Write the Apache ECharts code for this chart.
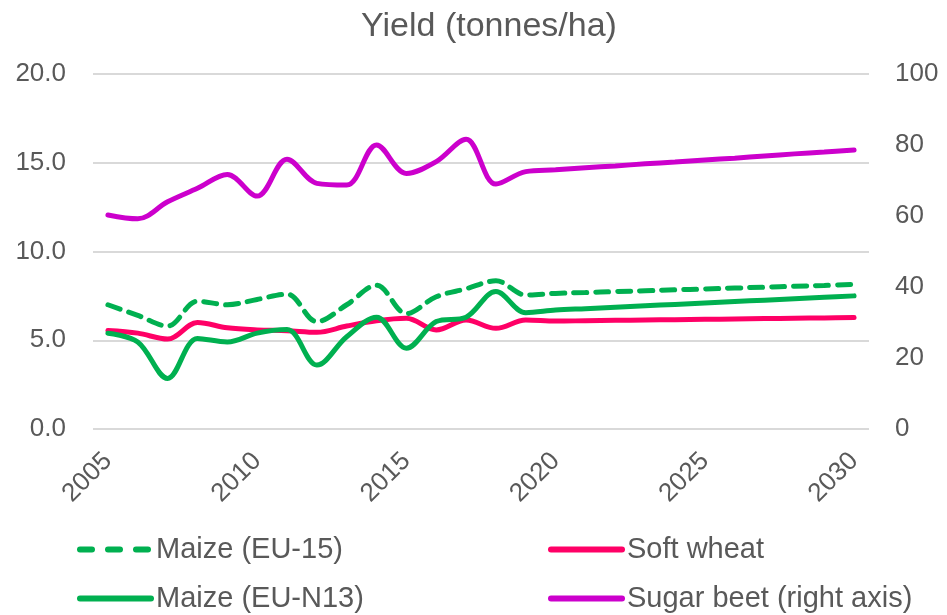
<!DOCTYPE html>
<html><head><meta charset="utf-8">
<script src="https://cdn.jsdelivr.net/npm/echarts@6/dist/echarts.min.js"></script>
<style>html,body{margin:0;padding:0;background:#fff}#c{width:947px;height:615px}</style>
</head><body><div id="c"></div>
<script>
const years = ['2005','2006','2007','2008','2009','2010','2011','2012','2013','2014','2015','2016','2017','2018','2019','2020','2021','2022','2023','2024','2025','2026','2027','2028','2029','2030'];
const maizeEU15 = [7.0,6.4,5.8,7.2,7.0,7.3,7.6,6.05,7.0,8.1,6.5,7.45,7.9,8.35,7.55,7.64,7.69,7.74,7.79,7.84,7.89,7.94,7.99,8.04,8.09,8.15];
const maizeEUN13 = [5.4,4.9,2.85,5.1,4.9,5.4,5.6,3.6,5.2,6.3,4.55,6.05,6.3,7.75,6.55,6.7,6.78,6.86,6.94,7.02,7.1,7.18,7.26,7.34,7.42,7.5];
const softWheat = [5.55,5.4,5.07,6.0,5.7,5.58,5.54,5.45,5.8,6.1,6.24,5.58,6.14,5.67,6.14,6.08,6.1,6.12,6.14,6.16,6.18,6.2,6.22,6.24,6.26,6.28];
const sugarBeet = [60.3,59.2,64.0,67.8,71.7,65.6,76.0,69.2,68.7,80.0,72.0,75.3,81.6,69.0,72.5,73.0,73.6,74.1,74.7,75.2,75.8,76.3,76.9,77.5,78.0,78.6];
const leftTicks = [0,5,10,15,20];
const rightTicks = [0,20,40,60,80,100];

const txt = '#595959';
const font = '"Liberation Sans", Arial, sans-serif';
const legendText = {fontFamily:font,color:txt,fontSize:29};
function leg(name, left, top, dashed){
  const ls = {width:6,cap:'round'};
  if (dashed) ls.type = [12,16];
  return {left:left,top:top,padding:0,itemGap:0,itemWidth:71,itemHeight:6,
    itemStyle:{opacity:0},lineStyle:ls,
    data:[name],textStyle:legendText};
}
const chart = echarts.init(document.getElementById('c'));
chart.setOption({
  animation:false,
  textStyle:{fontFamily:font,color:txt},
  title:{text:'Yield (tonnes/ha)',left:484,textAlign:'center',top:5,textStyle:{fontFamily:font,color:txt,fontSize:34,fontWeight:'normal'}},
  grid:{left:93,right:78,top:74,bottom:186},
  legend:[
    leg('Maize (EU-15)',77,535,true),
    leg('Maize (EU-N13)',77,584,false),
    leg('Soft wheat',548,535,false),
    leg('Sugar beet (right axis)',548,584,false)
  ],
  xAxis:{type:'category',data:years,boundaryGap:true,
    axisLine:{show:false},axisTick:{show:false},
    axisLabel:{interval:4,rotate:45,fontSize:26,color:txt,fontFamily:font,margin:28}},
  yAxis:[
    {type:'value',min:0,max:20,interval:5,position:'left',
      axisLabel:{fontSize:26,color:txt,fontFamily:font,margin:27,formatter:v=>v.toFixed(1)},
      splitLine:{lineStyle:{color:'#d9d9d9',width:2}},axisLine:{show:false},axisTick:{show:false}},
    {type:'value',min:0,max:100,interval:20,position:'right',
      axisLabel:{fontSize:26,color:txt,fontFamily:font,margin:26},
      splitLine:{show:false},axisLine:{show:false},axisTick:{show:false}}
  ],
  series:[
    {name:'Maize (EU-15)',type:'line',data:maizeEU15,smooth:0.35,symbol:'none',yAxisIndex:0,
      lineStyle:{color:'#00B050',width:5,type:[13,9],cap:'round'},itemStyle:{color:'#00B050'}},
    {name:'Soft wheat',type:'line',data:softWheat,smooth:0.35,symbol:'none',yAxisIndex:0,
      lineStyle:{color:'#FF0066',width:5,cap:'round'},itemStyle:{color:'#FF0066'}},
    {name:'Maize (EU-N13)',type:'line',data:maizeEUN13,smooth:0.35,symbol:'none',yAxisIndex:0,
      lineStyle:{color:'#00B050',width:5,cap:'round'},itemStyle:{color:'#00B050'}},
    {name:'Sugar beet (right axis)',type:'line',data:sugarBeet,smooth:0.35,symbol:'none',yAxisIndex:1,
      lineStyle:{color:'#CC00CC',width:5,cap:'round'},itemStyle:{color:'#CC00CC'}}
  ]
});
</script></body></html>
